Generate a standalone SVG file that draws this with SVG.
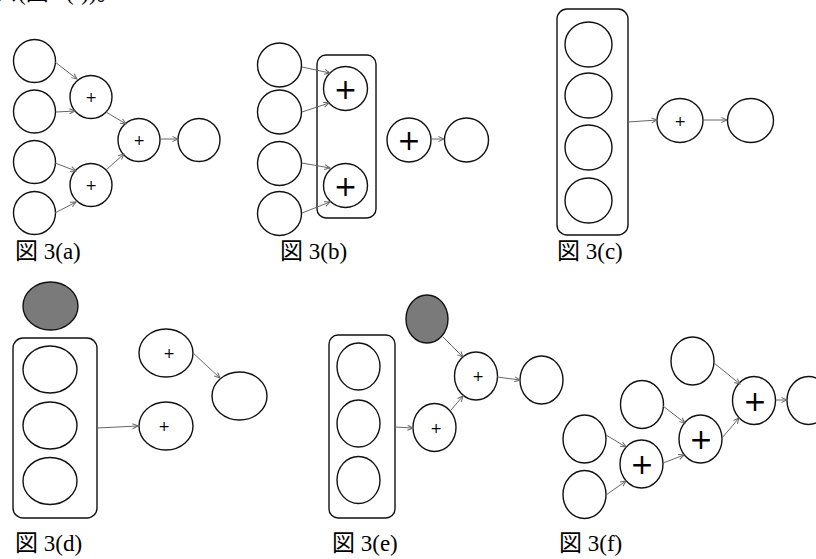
<svg xmlns="http://www.w3.org/2000/svg" width="816" height="559" viewBox="0 0 816 559">
<style>
.n{fill:#fff;stroke:#111;stroke-width:1.4}
.g{fill:#7a7a7a;stroke:#111;stroke-width:1.4}
.box{fill:none;stroke:#111;stroke-width:1.4}
.e{fill:none;stroke:#666;stroke-width:1;marker-end:url(#ah)}
.p{font-family:"DejaVu Sans","Liberation Sans",sans-serif;font-size:14px;text-anchor:middle;fill:#000}
.pb{font-family:"DejaVu Sans","Liberation Sans",sans-serif;font-size:28px;text-anchor:middle;fill:#000}
.lbl{font-family:"Liberation Serif","Noto Sans CJK JP",serif;font-size:23px;fill:#000}
</style>
<defs>
<marker id="ah" markerWidth="7" markerHeight="7" refX="6" refY="3" orient="auto" markerUnits="userSpaceOnUse">
<path d="M0.5,0.5 L6,3 L0.5,5.5" fill="none" stroke="#666" stroke-width="1"/>
</marker>
</defs>
<text class="lbl" x="-5" y="0">ズ(図 3(f))。</text>

<!-- (a) -->
<g id="a-in1"><ellipse class="n" cx="34.5" cy="61" rx="21" ry="21.5"/></g>
<g id="a-in2"><ellipse class="n" cx="34.5" cy="111.5" rx="21" ry="21.5"/></g>
<g id="a-in3"><ellipse class="n" cx="34.5" cy="162" rx="21" ry="21.5"/></g>
<g id="a-in4"><ellipse class="n" cx="34.5" cy="213" rx="21" ry="21.5"/></g>
<g id="a-p1"><ellipse class="n" cx="91" cy="97" rx="21" ry="21.5"/><text class="p" x="91" y="102">+</text></g>
<g id="a-p2"><ellipse class="n" cx="91" cy="185" rx="21" ry="21.5"/><text class="p" x="91" y="190">+</text></g>
<g id="a-p3"><ellipse class="n" cx="139" cy="140" rx="21" ry="21.5"/><text class="p" x="139" y="145">+</text></g>
<g id="a-out"><ellipse class="n" cx="199" cy="140" rx="21" ry="21.5"/></g>
<text class="lbl" x="15" y="259">図 3(a)</text>

<!-- (b) -->
<g id="b-in1"><ellipse class="n" cx="279.5" cy="65" rx="22" ry="22"/></g>
<g id="b-in2"><ellipse class="n" cx="279.5" cy="112" rx="22" ry="22"/></g>
<g id="b-in3"><ellipse class="n" cx="279.5" cy="163.5" rx="22" ry="22"/></g>
<g id="b-in4"><ellipse class="n" cx="279.5" cy="213.5" rx="22" ry="22"/></g>
<g id="b-box"><rect class="box" x="317" y="55" width="59" height="163" rx="9"/></g>
<g id="b-p1"><ellipse class="n" cx="345.5" cy="88.5" rx="22" ry="22"/><text class="pb" x="345.5" y="98.5">+</text></g>
<g id="b-p2"><ellipse class="n" cx="345.5" cy="185.5" rx="22" ry="22"/><text class="pb" x="345.5" y="195.5">+</text></g>
<g id="b-p3"><ellipse class="n" cx="409" cy="140" rx="22" ry="22"/><text class="pb" x="409" y="150">+</text></g>
<g id="b-out"><ellipse class="n" cx="466.5" cy="140" rx="22" ry="22"/></g>
<text class="lbl" x="280" y="259">図 3(b)</text>

<!-- (c) -->
<g id="c-box"><rect class="box" x="557" y="9" width="71" height="226" rx="10"/></g>
<g id="c-in1"><ellipse class="n" cx="588.5" cy="44.5" rx="23.5" ry="22.5"/></g>
<g id="c-in2"><ellipse class="n" cx="588.5" cy="95.5" rx="23.5" ry="22.5"/></g>
<g id="c-in3"><ellipse class="n" cx="588.5" cy="147.5" rx="23.5" ry="22.5"/></g>
<g id="c-in4"><ellipse class="n" cx="588.5" cy="200.5" rx="23.5" ry="22.5"/></g>
<g id="c-p"><ellipse class="n" cx="680" cy="120.5" rx="23" ry="22"/><text class="p" x="680" y="125.5">+</text></g>
<g id="c-out"><ellipse class="n" cx="750.5" cy="120.5" rx="23" ry="22"/></g>
<text class="lbl" x="557" y="259">図 3(c)</text>

<!-- (d) -->
<g id="d-g"><ellipse class="g" cx="50.5" cy="306" rx="27.5" ry="24"/></g>
<g id="d-box"><rect class="box" x="13" y="338" width="84" height="180" rx="10"/></g>
<g id="d-in1"><ellipse class="n" cx="50" cy="369.5" rx="27" ry="23.5"/></g>
<g id="d-in2"><ellipse class="n" cx="50" cy="425.5" rx="27" ry="23.5"/></g>
<g id="d-in3"><ellipse class="n" cx="50" cy="481" rx="27" ry="23.5"/></g>
<g id="d-p1"><ellipse class="n" cx="166" cy="353" rx="27" ry="24"/><text class="p" x="169" y="358">+</text></g>
<g id="d-p2"><ellipse class="n" cx="166" cy="426" rx="27" ry="24"/><text class="p" x="164" y="431">+</text></g>
<g id="d-out"><ellipse class="n" cx="239.5" cy="396" rx="27.5" ry="24"/></g>
<text class="lbl" x="15" y="551">図 3(d)</text>

<!-- (e) -->
<g id="e-g"><ellipse class="g" cx="427" cy="319" rx="21" ry="24"/></g>
<g id="e-box"><rect class="box" x="329" y="335" width="66" height="183" rx="9"/></g>
<g id="e-in1"><ellipse class="n" cx="358.5" cy="366.5" rx="21.5" ry="23.5"/></g>
<g id="e-in2"><ellipse class="n" cx="358.5" cy="423.5" rx="21.5" ry="23.5"/></g>
<g id="e-in3"><ellipse class="n" cx="358.5" cy="480" rx="21.5" ry="23.5"/></g>
<g id="e-p1"><ellipse class="n" cx="434.5" cy="427.5" rx="21.5" ry="24"/><text class="p" x="436" y="433">+</text></g>
<g id="e-p2"><ellipse class="n" cx="476" cy="376" rx="21.5" ry="24"/><text class="p" x="478" y="381">+</text></g>
<g id="e-out"><ellipse class="n" cx="541.5" cy="380" rx="21.5" ry="24"/></g>
<text class="lbl" x="332" y="551">図 3(e)</text>

<!-- (f) -->
<g id="f-in1"><ellipse class="n" cx="584.5" cy="439" rx="21.5" ry="24"/></g>
<g id="f-in2"><ellipse class="n" cx="584.5" cy="494.5" rx="21.5" ry="24"/></g>
<g id="f-in3"><ellipse class="n" cx="642" cy="404.5" rx="21.5" ry="24"/></g>
<g id="f-in4"><ellipse class="n" cx="692.5" cy="361" rx="21.5" ry="24"/></g>
<g id="f-p1"><ellipse class="n" cx="641.5" cy="464" rx="21.5" ry="24"/><text class="pb" x="642" y="474">+</text></g>
<g id="f-p2"><ellipse class="n" cx="700.5" cy="439" rx="21.5" ry="24"/><text class="pb" x="701" y="449">+</text></g>
<g id="f-p3"><ellipse class="n" cx="754" cy="400.5" rx="21.5" ry="24"/><text class="pb" x="755" y="410.5">+</text></g>
<g id="f-out"><ellipse class="n" cx="808.5" cy="400.5" rx="21.5" ry="24"/></g>
<text class="lbl" x="559" y="551">図 3(f)</text>

<g id="connectors">
<line class="e" x1="55" y1="62" x2="77" y2="79"/>
<line class="e" x1="56" y1="112" x2="75" y2="111"/>
<line class="e" x1="55" y1="163" x2="76" y2="171"/>
<line class="e" x1="55" y1="213" x2="76" y2="202"/>
<line class="e" x1="106" y1="112" x2="126" y2="124"/>
<line class="e" x1="106" y1="170" x2="124" y2="154"/>
<line class="e" x1="160" y1="139" x2="178" y2="139"/>

<line class="e" x1="302" y1="67" x2="330" y2="73"/>
<line class="e" x1="302" y1="112" x2="329" y2="103"/>
<line class="e" x1="302" y1="163" x2="330" y2="168"/>
<line class="e" x1="302" y1="213" x2="330" y2="202"/>
<line class="e" x1="431" y1="139" x2="444" y2="139"/>

<line class="e" x1="628" y1="122" x2="657" y2="120"/>
<line class="e" x1="703" y1="120" x2="727" y2="120"/>

<line class="e" x1="97" y1="428" x2="138" y2="426"/>
<line class="e" x1="193" y1="353" x2="220" y2="378"/>

<line class="e" x1="443" y1="337" x2="463" y2="357"/>
<line class="e" x1="395" y1="427" x2="413" y2="428"/>
<line class="e" x1="451" y1="410" x2="463" y2="396"/>
<line class="e" x1="497" y1="377" x2="520" y2="380"/>

<line class="e" x1="606" y1="435" x2="626" y2="447"/>
<line class="e" x1="606" y1="495" x2="626" y2="481"/>
<line class="e" x1="663" y1="406" x2="685" y2="423"/>
<line class="e" x1="663" y1="463" x2="684" y2="455"/>
<line class="e" x1="714" y1="363" x2="740" y2="384"/>
<line class="e" x1="722" y1="438" x2="739" y2="418"/>
<line class="e" x1="776" y1="400" x2="787" y2="400"/>
</g>
</svg>
